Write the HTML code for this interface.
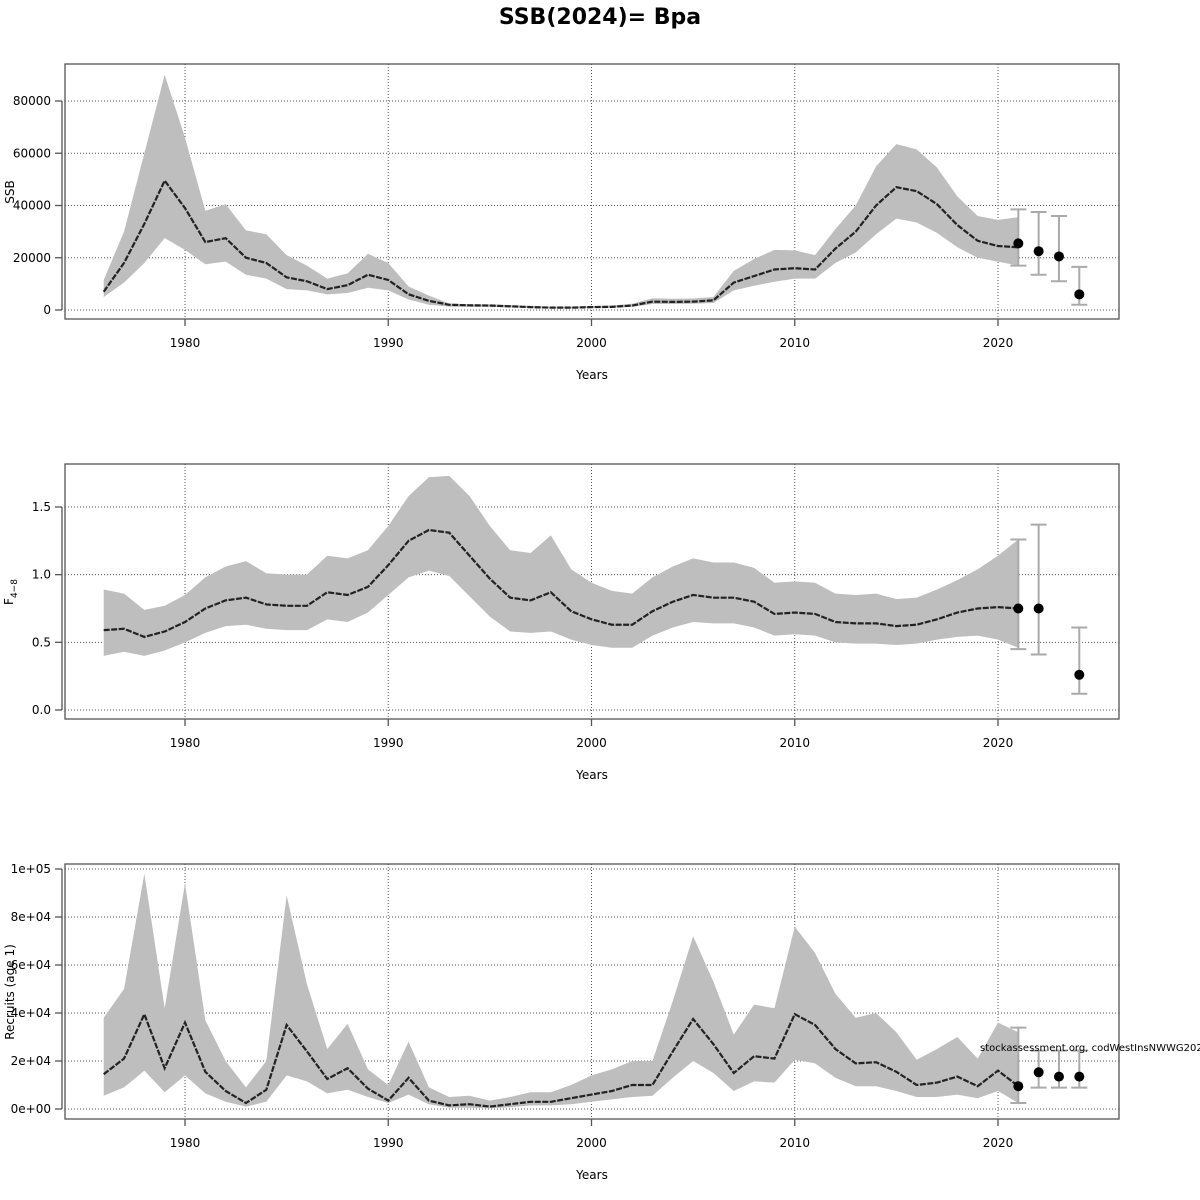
<!DOCTYPE html>
<html><head><meta charset="utf-8"><style>
html,body{margin:0;padding:0;background:#fff}
svg{display:block;font-family:"DejaVu Sans","Liberation Sans",sans-serif}
</style></head><body>
<svg id="c" width="1200" height="1200"></svg>
<script>
const years=[];for(let y=1976;y<=2021;y++)years.push(y);
const ssbMed=[7000,18000,33000,49500,39000,26000,27500,20000,18000,12500,11000,8000,9500,13500,11500,6000,3500,2000,1800,1700,1400,1100,900,900,1100,1200,1700,3200,3100,3200,3700,10500,13000,15500,16000,15500,23500,30000,40000,47000,45500,40500,32500,26500,24500,24000];
const ssbHi=[11500,30000,60000,90000,66000,38000,40500,30500,29000,21000,17000,12000,14000,21500,18000,9000,5500,2500,2200,2200,1900,1600,1300,1300,1500,1700,2400,4500,4300,4400,5000,15000,19500,23000,22800,21000,31000,40000,55000,63500,61500,54500,43500,36000,34500,35500];
const ssbLo=[5000,10500,18000,27500,23000,17500,18500,13500,12000,8000,7500,6000,6500,8500,7500,4000,2000,1300,1200,1200,1000,700,600,600,800,900,1200,2300,2300,2400,2700,7500,9300,10800,12000,12000,18000,22000,29000,35000,33500,29500,24000,20000,18500,17000];
const ssbFcYears=[2021,2022,2023,2024];
const ssbFc=[25500,22500,20500,6000];
const ssbFcLo=[17000,13500,11000,2000];
const ssbFcHi=[38500,37500,36000,16500];
const fMed=[0.59,0.60,0.54,0.58,0.65,0.75,0.81,0.83,0.78,0.77,0.77,0.87,0.85,0.91,1.07,1.25,1.33,1.31,1.14,0.97,0.83,0.81,0.87,0.73,0.67,0.63,0.63,0.73,0.80,0.85,0.83,0.83,0.80,0.71,0.72,0.71,0.65,0.64,0.64,0.62,0.63,0.67,0.72,0.75,0.76,0.75];
const fHi=[0.89,0.86,0.74,0.77,0.85,0.98,1.06,1.10,1.01,1.00,1.00,1.14,1.12,1.18,1.36,1.58,1.72,1.73,1.58,1.36,1.18,1.16,1.29,1.04,0.94,0.88,0.86,0.98,1.06,1.12,1.09,1.09,1.05,0.94,0.95,0.94,0.86,0.85,0.86,0.82,0.83,0.89,0.96,1.04,1.14,1.26];
const fLo=[0.40,0.43,0.40,0.44,0.50,0.57,0.62,0.63,0.60,0.59,0.59,0.67,0.65,0.72,0.85,0.98,1.03,0.99,0.84,0.69,0.58,0.57,0.58,0.52,0.48,0.46,0.46,0.55,0.61,0.65,0.64,0.64,0.61,0.55,0.56,0.55,0.50,0.49,0.49,0.48,0.49,0.52,0.54,0.55,0.52,0.46];
const fFcYears=[2021,2022,2024];
const fFc=[0.75,0.75,0.26];
const fFcLo=[0.45,0.41,0.12];
const fFcHi=[1.26,1.37,0.61];
const recMed=[14500,21000,39500,17000,36000,15500,7500,2500,8000,35000,24000,12500,17000,8500,3500,13000,3500,1500,2000,1000,2000,3000,3000,4500,6000,7500,10000,10000,24000,37500,27000,15000,22000,21000,39500,35000,25000,19000,19500,15500,10000,11000,13500,9500,16000,9500];
const recHi=[38000,50000,98000,42000,94000,37000,20000,9000,20000,89000,52000,25000,35500,16500,10000,28000,9000,5000,5500,3500,5000,7000,7000,10000,14000,16500,20000,20000,45000,72000,53000,31000,43500,42000,76000,65000,48000,38000,40000,32000,20500,25000,30000,21000,36000,32000];
const recLo=[5500,9000,16000,7000,14000,6500,3000,1000,3000,14000,11500,6500,8000,5000,2500,6000,2000,500,500,300,700,1500,1500,2000,3000,4000,5000,5500,13000,20000,15000,7500,11500,11000,20500,19000,13000,9500,9500,7500,5000,5000,6000,4500,7500,2500];
const recFcYears=[2021,2022,2023,2024];
const recFc=[9500,15300,13500,13500];
const recFcLo=[2500,8900,8900,8900];
const recFcHi=[33900,24300,24300,24300];
const xTicks=[1980,1990,2000,2010,2020];
const ssbTicks=[0,20000,40000,60000,80000];
const fTicks=[0,0.5,1.0,1.5];
const fTickLabels=["0.0","0.5","1.0","1.5"];
const recTicks=[0,20000,40000,60000,80000,100000];
const recTickLabels=["0e+00","2e+04","4e+04","6e+04","8e+04","1e+05"];

const svg=document.getElementById('c');const NS="http://www.w3.org/2000/svg";
function el(t,a,p){const e=document.createElementNS(NS,t);for(const k in a)e.setAttribute(k,a[k]);(p||svg).appendChild(e);return e;}
const X=yr=>103.7+(yr-1976)*20.325;
const t=el('text',{x:600,y:24,'text-anchor':'middle','font-size':22,'font-weight':'bold'});
t.textContent="SSB(2024)= Bpa";

function panel(name,top,y0px,yPer,yUnit,ticks,tickLabels,med,hi,lo,fy,fm,flo,fhi){
  const g=el('g',{});
  const Y=v=>y0px-v/yUnit*yPer;
  const L=65,R=1119,T=top,B=top+255;
  xTicks.forEach(v=>{el('line',{x1:X(v),x2:X(v),y1:T,y2:B,stroke:'#555','stroke-width':1,'stroke-dasharray':'1,2'},g);});
  ticks.forEach(v=>{el('line',{x1:L,x2:R,y1:Y(v),y2:Y(v),stroke:'#555','stroke-width':1,'stroke-dasharray':'1,2'},g);});
  let pts=years.map((y,i)=>X(y)+','+Y(hi[i]));
  for(let i=years.length-1;i>=0;i--)pts.push(X(years[i])+','+Y(lo[i]));
  const band=el('polygon',{points:pts.join(' '),fill:'#bebebe',stroke:'none'},g);
  
  const ln=el('polyline',{points:years.map((y,i)=>X(y)+','+Y(med[i])).join(' '),fill:'none',stroke:'#222','stroke-width':2.2,'stroke-dasharray':'6,1.5'},g);
  
  fy.forEach((y,i)=>{
    const x=X(y);
    el('line',{x1:x,x2:x,y1:Y(flo[i]),y2:Y(fhi[i]),stroke:'#aaa','stroke-width':2},g);
    el('line',{x1:x-8,x2:x+8,y1:Y(flo[i]),y2:Y(flo[i]),stroke:'#aaa','stroke-width':2},g);
    el('line',{x1:x-8,x2:x+8,y1:Y(fhi[i]),y2:Y(fhi[i]),stroke:'#aaa','stroke-width':2},g);
    const c=el('circle',{cx:x,cy:Y(fm[i]),r:5,fill:'#000'},g);
    
  });
  el('rect',{x:L,y:T,width:R-L,height:B-T,fill:'none',stroke:'#555','stroke-width':1.3},g);
  xTicks.forEach(v=>{el('line',{x1:X(v),x2:X(v),y1:B,y2:B+7,stroke:'#555','stroke-width':1.3},g);
    const tx=el('text',{x:X(v),y:B+28,'text-anchor':'middle','font-size':12},g);tx.textContent=v;});
  const xl=el('text',{x:592,y:B+60,'text-anchor':'middle','font-size':12},g);xl.textContent="Years";
  
  el('line',{x1:62,x2:62,y1:Y(ticks[0]),y2:Y(ticks[ticks.length-1]),stroke:'#555','stroke-width':1.3},g);
  ticks.forEach((v,i)=>{el('line',{x1:55,x2:62,y1:Y(v),y2:Y(v),stroke:'#555','stroke-width':1.3},g);
    const tx=el('text',{x:51,y:Y(v)+4,'text-anchor':'end','font-size':12},g);tx.textContent=tickLabels[i];});
  return {g,Y,T,B};
}
panel('ssb',64,310,52.25,20000,ssbTicks,ssbTicks.map(String),ssbMed,ssbHi,ssbLo,ssbFcYears,ssbFc,ssbFcLo,ssbFcHi);
const yt1=el('text',{x:0,y:0,transform:'translate(14,192) rotate(-90)','text-anchor':'middle','font-size':12});yt1.textContent="SSB";

panel('f',464,710,67.67,0.5,fTicks,fTickLabels,fMed,fHi,fLo,fFcYears,fFc,fFcLo,fFcHi);
const yt2=el('text',{x:0,y:0,transform:'translate(13,592) rotate(-90)','text-anchor':'middle','font-size':12});
yt2.innerHTML='F<tspan font-size="9" dy="4">4−8</tspan>';

panel('recruits',864,1109,48,20000,recTicks,recTickLabels,recMed,recHi,recLo,recFcYears,recFc,recFcLo,recFcHi);
const yt3=el('text',{x:0,y:0,transform:'translate(14,992) rotate(-90)','text-anchor':'middle','font-size':12});yt3.textContent="Recruits (age 1)";

const src=el('text',{x:980,y:1051,'font-size':10});src.textContent="stockassessment.org, codWestInsNWWG2021";

</script>
</body></html>
